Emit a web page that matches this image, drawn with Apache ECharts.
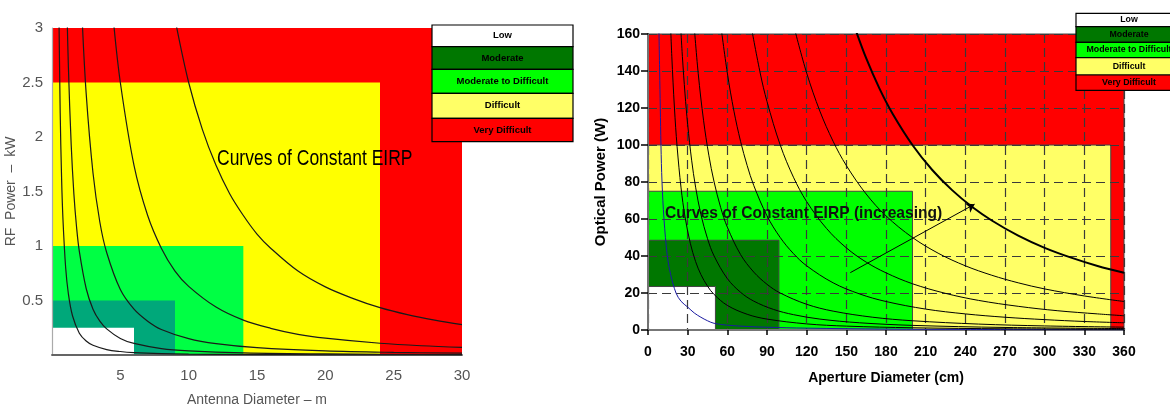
<!DOCTYPE html>
<html><head><meta charset="utf-8">
<script src="https://cdn.jsdelivr.net/npm/echarts@6/dist/echarts.min.js"></script>
<style>html,body{margin:0;padding:0;background:#fff}#c{width:1170px;height:407px}</style>
</head><body><div id="c"></div>
<script>
// ---------- DATA ----------
const legendLabels = ['Low', 'Moderate', 'Moderate to Difficult', 'Difficult', 'Very Difficult'];

// Left chart: RF (kW) vs antenna diameter (m); zones anchored at origin, largest first
const leftZoneNames = ['Very Difficult', 'Difficult', 'Moderate to Difficult', 'Moderate', 'Low'];
const leftZoneXMax = [30, 24, 14, 9, 6];
const leftZoneYMax = [3, 2.5, 1, 0.5, 0.25];
const leftXTicks = [0, 5, 10, 15, 20, 25, 30];
const leftYTicks = [0, 0.5, 1, 1.5, 2, 2.5, 3];

const leftCurveA = [[0.5,3.2],[0.6,2.22],[0.7,1.63],[0.8,1.25],[1.0,0.8],[1.2,0.56],[1.5,0.36],[2,0.2],[2.5,0.128],[3,0.089],[4,0.05],[5,0.032],[6,0.022],[8,0.0125],[10,0.008],[15,0.0036],[20,0.002],[30,0.0009]];
const leftCurveB = [[1.1,3.14],[1.2,2.64],[1.4,1.94],[1.6,1.48],[1.8,1.17],[2.0,0.95],[2.5,0.61],[3,0.42],[3.5,0.31],[4,0.24],[5,0.152],[6,0.106],[8,0.059],[10,0.038],[14,0.019],[20,0.0095],[30,0.0042]];
const leftCurveC = [[2.2,3.1],[2.5,2.4],[3,1.67],[3.5,1.22],[4,0.94],[5,0.6],[6,0.42],[7,0.31],[8,0.234],[10,0.15],[12,0.104],[15,0.067],[20,0.0375],[25,0.024],[30,0.017]];
const leftCurveD = [[4.5,3.06],[5,2.5],[6,1.74],[7,1.28],[8,0.98],[9,0.77],[10,0.63],[12,0.44],[14,0.32],[16,0.245],[18,0.19],[20,0.155],[24,0.108],[27,0.085],[30,0.07]];
const leftCurveE = [[9.1,3.02],[10,2.5],[11,2.07],[12,1.74],[13,1.48],[14,1.28],[15,1.11],[16,0.98],[18,0.77],[20,0.625],[22,0.52],[24,0.434],[26,0.37],[28,0.32],[30,0.278]];

// Right chart: optical power (W) vs aperture diameter (cm)
const rightZoneNames = ['Very Difficult', 'Difficult', 'Moderate to Difficult', 'Moderate', 'Low'];
const rightZoneXMax = [360, 350, 200, 99, 51];
const rightZoneYMax = [160, 100, 75, 48.5, 23.5];
const rightXTicks = [0, 30, 60, 90, 120, 150, 180, 210, 240, 270, 300, 330, 360];
const rightYTicks = [0, 20, 40, 60, 80, 100, 120, 140, 160];

const rightCurveBlue = [[8.2,165],[8.8,140],[9.3,120],[9.8,100],[10.6,80],[12.1,60],[14.6,40],[17.1,30],[21.2,20],[25,15.5],[30,12.4],[35,9.2],[40,6.9],[45,5.0],[50,3.6],[60,2.6],[75,1.9],[90,1.5],[120,1.0],[180,0.5],[240,0.3],[360,0.15]];
const rightCurve1 = [[16.9,168],[18,148],[20,120],[22,99.2],[25,76.8],[28,61.2],[32,46.9],[36,37.0],[40,30.0],[45,23.7],[50,19.2],[60,13.3],[75,8.5],[90,5.9],[120,3.3],[150,2.1],[200,1.2],[270,0.66],[360,0.37]];
const rightCurve2 = [[24.5,166.6],[26,147.9],[28,127.6],[30,111.1],[33,91.8],[36,77.2],[40,62.5],[45,49.4],[50,40],[60,27.8],[70,20.4],[80,15.6],[95,11.1],[110,8.3],[130,5.9],[160,3.9],[200,2.5],[270,1.37],[360,0.77]];
const rightCurve3 = [[34.5,168],[38,138.5],[42,113.4],[46,94.5],[50,80],[55,66.1],[60,55.6],[70,40.8],[80,31.3],[90,24.7],[100,20],[120,13.9],[140,10.2],[170,6.9],[200,5.0],[250,3.2],[300,2.2],[360,1.54]];
const rightCurve4 = [[55,165],[60,138.9],[65,118.3],[70,102],[75,88.9],[80,78.1],[90,61.7],[100,50],[110,41.3],[120,34.7],[140,25.5],[160,19.5],[180,15.4],[210,11.3],[240,8.7],[270,6.9],[300,5.6],[330,4.6],[360,3.9]];
const rightCurve5 = [[78.5,162.3],[85,138.4],[90,123.5],[100,100],[110,82.6],[120,69.4],[135,54.9],[150,44.4],[165,36.7],[180,30.9],[200,25],[225,19.8],[250,16],[280,12.8],[310,10.4],[340,8.7],[360,7.7]];
const rightCurve6 = [[111,162.3],[120,138.9],[130,118.3],[140,102],[150,88.9],[165,73.5],[180,61.7],[200,50],[220,41.3],[240,34.7],[260,29.6],[280,25.5],[300,22.2],[330,18.4],[360,15.4]];
const rightCurve7 = [[157,162.3],[165,146.9],[175,130.6],[185,116.9],[200,100],[215,86.5],[230,75.6],[245,66.6],[260,59.2],[280,51],[300,44.4],[320,39.1],[340,34.6],[360,30.9]];
const rightArrow = [[153,31],[247,68]];

// ---------- STYLE ----------
const legendColors = ['#FFFFFF', '#007700', '#00FF00', '#FFFF66', '#FF0000'];
const leftZoneColors = ['#FF0000', '#FFFF00', '#00FF44', '#00A87A', '#FFFFFF'];
const rightZoneColors = ['#FF0000', '#FFFF66', '#00FF00', '#007700', '#FFFFFF'];
const SANS = "'Liberation Sans', Arial, Helvetica, sans-serif";
const NARROW = "'Liberation Sans Narrow', 'Liberation Sans', Arial, sans-serif";

const chart = echarts.init(document.getElementById('c'), null, { renderer: 'canvas' });

function zoneSeries(idx, xs, ys, names, colors, stroke) {
  return {
    type: 'custom', xAxisIndex: idx, yAxisIndex: idx, z: 1, silent: true, clip: false,
    data: xs.map((x, i) => ({ name: names[i], value: [x, ys[i], i] })),
    encode: { x: 0, y: 1 },
    renderItem: (params, api) => {
      const p0 = api.coord([0, 0]);
      const p1 = api.coord([api.value(0), api.value(1)]);
      const i = api.value(2);
      return {
        type: 'rect',
        shape: { x: p0[0], y: p1[1], width: p1[0] - p0[0], height: p0[1] - p1[1] },
        style: { fill: colors[i], stroke: stroke || null, lineWidth: stroke ? 1 : 0 }
      };
    }
  };
}
function curve(idx, data, color, width) {
  return {
    type: 'line', xAxisIndex: idx, yAxisIndex: idx, data: data, z: 5,
    smooth: 0.35, showSymbol: false, symbol: 'none',
    clip: true, silent: true, lineStyle: { color: color, width: width }
  };
}
function legendElements(x, w, tops, bottom, fontSize) {
  const ch = [];
  legendLabels.forEach((lab, i) => {
    const y0 = tops[i], y1 = (i < tops.length - 1) ? tops[i + 1] : bottom;
    ch.push({ type: 'rect', z: 30, shape: { x: x, y: y0, width: w, height: y1 - y0 },
      style: { fill: legendColors[i], stroke: '#000', lineWidth: 1.2 } });
    ch.push({ type: 'text', z: 31, x: x + w / 2, y: (y0 + y1) / 2,
      style: { text: lab, fill: '#000', font: 'bold ' + fontSize + 'px ' + SANS, align: 'center', verticalAlign: 'middle' } });
  });
  return ch;
}

const option = {
  animation: false,
  backgroundColor: '#ffffff',
  grid: [
    { left: 52, top: 28, width: 410, height: 327, outerBoundsMode: 'none', containLabel: false },
    { left: 648, top: 34, width: 476, height: 296, outerBoundsMode: 'none', containLabel: false }
  ],
  xAxis: [
    { gridIndex: 0, type: 'value', min: leftXTicks[0], max: leftXTicks[leftXTicks.length - 1], interval: 5, position: 'bottom', z: 3,
      axisLine: { show: true, lineStyle: { color: '#333', width: 1.5 } }, axisTick: { show: false }, splitLine: { show: false },
      axisLabel: { showMinLabel: false, color: '#555', fontSize: 15, fontFamily: NARROW, margin: 13 },
      name: 'Antenna Diameter – m', nameLocation: 'middle', nameGap: 38,
      nameTextStyle: { color: '#555', fontSize: 14, fontFamily: NARROW } },
    { gridIndex: 1, type: 'value', min: rightXTicks[0], max: rightXTicks[rightXTicks.length - 1], interval: 30, position: 'bottom', z: 3,
      axisLine: { show: true, lineStyle: { color: '#000', width: 2 } },
      axisTick: { show: true, length: 5, lineStyle: { color: '#000', width: 1.5 } },
      splitLine: { show: true, lineStyle: { type: [9, 5], color: '#3a3a3a', width: 1.2 } },
      axisLabel: { color: '#000', fontSize: 14, fontWeight: 'bold', fontFamily: SANS, margin: 15 },
      name: 'Aperture Diameter (cm)', nameLocation: 'middle', nameGap: 41,
      nameTextStyle: { color: '#000', fontSize: 14, fontWeight: 'bold', fontFamily: SANS } },
    { gridIndex: 0, type: 'value', min: 0, max: 30, position: 'top', z: 3,
      axisLine: { show: true, lineStyle: { color: '#666', width: 1.5 } }, axisTick: { show: false }, axisLabel: { show: false }, splitLine: { show: false } },
    { gridIndex: 1, type: 'value', min: 0, max: 360, position: 'top', z: 3,
      axisLine: { show: true, lineStyle: { color: '#777', width: 2 } }, axisTick: { show: false }, axisLabel: { show: false }, splitLine: { show: false } }
  ],
  yAxis: [
    { gridIndex: 0, type: 'value', min: leftYTicks[0], max: leftYTicks[leftYTicks.length - 1], interval: 0.5, position: 'left', z: 3,
      axisLine: { show: false }, axisTick: { show: false }, splitLine: { show: false },
      axisLabel: { showMinLabel: false, color: '#555', fontSize: 15, fontFamily: NARROW, margin: 9 },
      name: 'RF  Power  –  kW', nameLocation: 'middle', nameGap: 32,
      nameTextStyle: { color: '#555', fontSize: 14, fontFamily: NARROW } },
    { gridIndex: 1, type: 'value', min: rightYTicks[0], max: rightYTicks[rightYTicks.length - 1], interval: 20, position: 'left', z: 3,
      axisLine: { show: true, lineStyle: { color: '#000', width: 2 } },
      axisTick: { show: true, length: 7, lineStyle: { color: '#000', width: 1.5 } },
      splitLine: { show: true, lineStyle: { type: [9, 5], color: '#3a3a3a', width: 1.2 } },
      axisLabel: { color: '#000', fontSize: 14, fontWeight: 'bold', fontFamily: SANS, margin: 8 },
      name: 'Optical Power (W)', nameLocation: 'middle', nameGap: 40,
      nameTextStyle: { color: '#000', fontSize: 15, fontWeight: 'bold', fontFamily: SANS } },
    { gridIndex: 0, type: 'value', min: 0, max: 3, position: 'right', z: 3,
      axisLine: { show: true, lineStyle: { color: '#aaa', width: 1.2 } }, axisTick: { show: false }, axisLabel: { show: false }, splitLine: { show: false } },
    { gridIndex: 1, type: 'value', min: 0, max: 160, position: 'right', z: 3,
      axisLine: { show: true, lineStyle: { color: '#999', width: 1.5 } }, axisTick: { show: false }, axisLabel: { show: false }, splitLine: { show: false } }
  ],
  series: [
    zoneSeries(0, leftZoneXMax, leftZoneYMax, leftZoneNames, leftZoneColors, null),
    zoneSeries(1, rightZoneXMax, rightZoneYMax, rightZoneNames, rightZoneColors, '#444'),
    curve(0, leftCurveA, '#1a1a1a', 1.2),
    curve(0, leftCurveB, '#1a1a1a', 1.2),
    curve(0, leftCurveC, '#1a1a1a', 1.2),
    curve(0, leftCurveD, '#1a1a1a', 1.2),
    curve(0, leftCurveE, '#1a1a1a', 1.2),
    curve(1, rightCurveBlue, '#1a1aa0', 1),
    curve(1, rightCurve1, '#000', 1),
    curve(1, rightCurve2, '#000', 1),
    curve(1, rightCurve3, '#000', 1),
    curve(1, rightCurve4, '#000', 1),
    curve(1, rightCurve5, '#000', 1),
    curve(1, rightCurve6, '#000', 1),
    curve(1, rightCurve7, '#000', 2),
    { type: 'lines', coordinateSystem: 'cartesian2d', xAxisIndex: 1, yAxisIndex: 1, z: 6, silent: true,
      symbol: ['none', 'arrow'], symbolSize: 8,
      data: [{ coords: rightArrow }], lineStyle: { color: '#000', width: 1, opacity: 1, curveness: 0 } }
  ],
  graphic: [
    { type: 'text', x: 217, y: 159, z: 15, scaleY: 1.25,
      style: { text: 'Curves of Constant EIRP', fill: '#000', font: '17.5px ' + SANS, align: 'left', verticalAlign: 'middle' } },
    { type: 'text', x: 665, y: 213, z: 15, scaleY: 1.1,
      style: { text: 'Curves of Constant EIRP (increasing)', fill: '#111', font: 'bold 15.6px ' + SANS, align: 'left', verticalAlign: 'middle' } }
  ].concat(
    legendElements(432, 141, [25, 46.7, 69.3, 93.3, 118.3], 141.7, 9.5),
    legendElements(1076, 106, [13.3, 26.7, 42.3, 57.7, 75], 90.3, 8.8)
  )
};
chart.setOption(option);
</script></body></html>
